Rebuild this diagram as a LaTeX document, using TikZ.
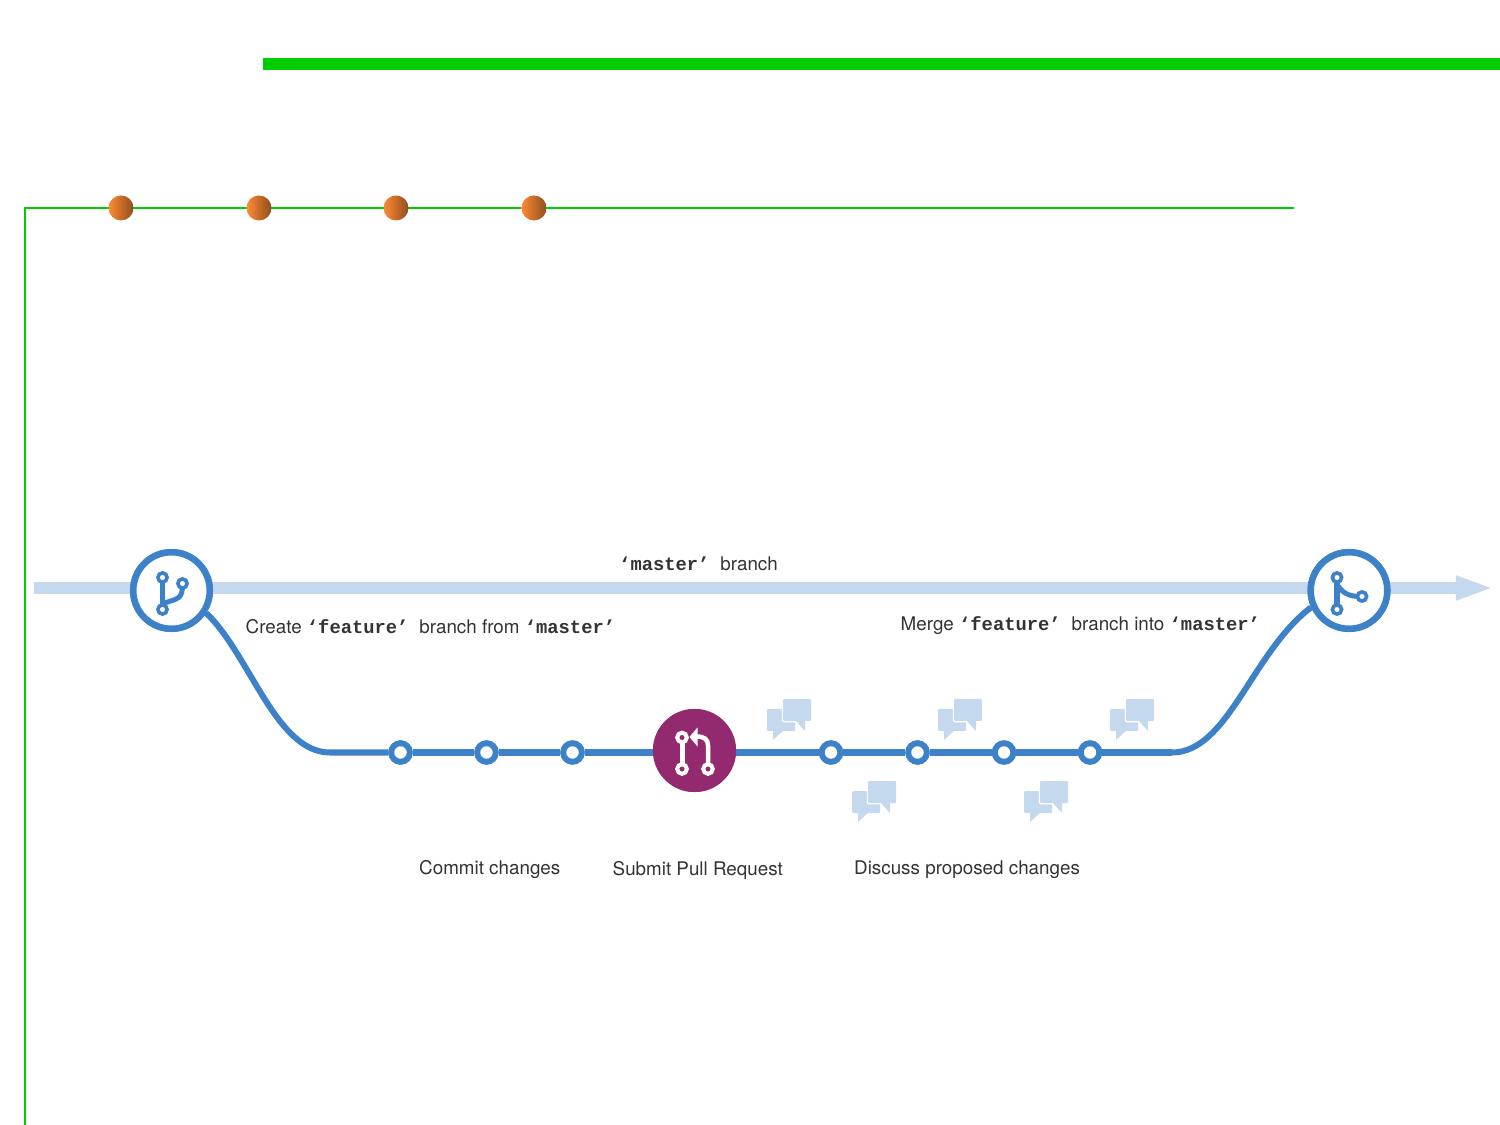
\documentclass[tikz,border=0pt]{standalone}
\usepackage{fontspec}
\setmainfont{TeX Gyre Heros}
\setmonofont{Liberation Mono}
\usetikzlibrary{arrows.meta}

\definecolor{railgreen}{HTML}{00CC00}
\definecolor{masterblue}{HTML}{C5D9EE}
\definecolor{featureblue}{HTML}{3D82C8}
\definecolor{pullpurple}{HTML}{93296F}
\definecolor{labelgrey}{HTML}{333333}
\definecolor{ballleft}{HTML}{FF8A33}
\definecolor{ballmid}{HTML}{F5822E}
\definecolor{ballright}{HTML}{8E4E1F}

\newcommand{\branchname}[1]{{\ttfamily\bfseries ‘#1’}}

\tikzset{
    ball/.style={circle, minimum size=0.25cm, inner sep=0pt, left color=ballleft, middle color=ballmid, right color=ballright},
    commit/.style={circle, draw=featureblue, line width=0.058cm, fill=white, minimum size=0.185cm, inner sep=0pt},
    ring/.style={circle, draw=featureblue, line width=0.065cm, fill=white, minimum size=0.765cm, inner sep=0pt},
    pullnode/.style={circle, fill=pullpurple, minimum size=0.83cm, inner sep=0pt},
    feature/.style={draw=featureblue, line width=0.06cm},
    label/.style={anchor=base west, inner sep=0pt, text=labelgrey, font=\fontsize{5.35}{6.5}\selectfont},
    pics/chat/.style={code={
        \fill[masterblue, rounded corners=0.01cm] (0,10) rectangle (28,32);
        \fill[masterblue] (6,31) -- (6,41) -- (17,31) -- cycle;
        \fill[masterblue, draw=white, line width=0.025cm, rounded corners=0.01cm] (16,0) rectangle (44,22);
        \fill[masterblue] (28,21) -- (38,32) -- (38,21) -- cycle;
        \fill[masterblue, rounded corners=0.01cm] (16,0) rectangle (44,22);
    }},
    pics/forkicon/.style={code={
        \draw[featureblue, line width=0.055cm] (-9,-13) -- (-9,19);
        \draw[featureblue, line width=0.05cm] (11,-7) .. controls (11,8) and (8,8) .. (-9,13);
        \foreach \cx/\cy in {-9/-13, 11/-7, -9/19}
            \draw[featureblue, line width=0.036cm, fill=white] (\cx,\cy) circle (0.046cm);
    }},
    pics/mergeicon/.style={code={
        \draw[featureblue, line width=0.055cm] (-12,-13) -- (-12,19);
        \draw[featureblue, line width=0.05cm] (-12,-6) .. controls (-5,5) and (3,6) .. (13,6);
        \foreach \cx/\cy in {-12/-13, 13/6, -12/19}
            \draw[featureblue, line width=0.036cm, fill=white] (\cx,\cy) circle (0.046cm);
    }},
    pics/pullicon/.style={code={
        \draw[white, line width=0.05cm] (-12.5,-13) -- (-12.5,18);
        \draw[white, line width=0.045cm] (13.5,18) -- (13.5,-5) .. controls (13.5,-11) and (10,-14) .. (2,-14);
        \fill[white] (-5,-13.5) -- (3,-23) -- (3,-4) -- cycle;
        \foreach \cx/\cy in {-12.5/-13, -12.5/18.5, 13.5/18.5}
            \draw[white, line width=0.04cm, fill=pullpurple] (\cx,\cy) circle (0.048cm);
    }},
}

\begin{document}
\begin{tikzpicture}[x=0.01cm, y=-0.01cm]

    \useasboundingbox (0,0) rectangle (1500,1125);

    % Green rules at the top
    \fill[railgreen] (263,58) rectangle (1500,70);

    \coordinate (railfoot) at (25,1125);
    \coordinate (railcorner) at (25,208);
    \coordinate (railend) at (1294,208);
    \draw[railgreen, line width=0.02cm] (railfoot) -- (railcorner) -- (railend);

    \node[ball] (ballA) at (121,208) {};
    \node[ball] (ballB) at (259,208) {};
    \node[ball] (ballC) at (396,208) {};
    \node[ball] (ballD) at (534,208) {};

    % The master branch
    \coordinate (masterstart) at (34,588);
    \coordinate (masterend) at (1494,588);
    \draw[masterblue, line width=0.12cm, -{Triangle[length=0.38cm, width=0.22cm]}] (masterstart) -- (masterend);

    % The nodes of the feature branch
    \node[ring] (fork) at (171.5,590.5) {};
    \node[ring] (merge) at (1349,590.5) {};
    \coordinate (bendL) at (330,752.5);
    \coordinate (bendR) at (1172,752.5);
    \coordinate (pullhub) at (694.5,752.5);
    \node[commit] (commitA) at (400.5,752.5) {};
    \node[commit] (commitB) at (486.5,752.5) {};
    \node[commit] (commitC) at (572.5,752.5) {};
    \node[pullnode] (pull) at (694.5,750.5) {};
    \node[commit] (discussA) at (831,752.5) {};
    \node[commit] (discussB) at (917.5,752.5) {};
    \node[commit] (discussC) at (1004,752.5) {};
    \node[commit] (discussD) at (1090,752.5) {};

    % The feature branch itself
    \draw[feature] (fork.-33) .. controls (250,655) and (276,752.5) .. (bendL) -- (commitA);
    \foreach \from/\to in {commitA/commitB, commitB/commitC, commitC/pullhub, pullhub/discussA, discussA/discussB, discussB/discussC, discussC/discussD, discussD/bendR}
        \draw[feature] (\from) -- (\to);
    \draw[feature] (bendR) .. controls (1228,752.5) and (1252,652) .. (merge.204);

    % Redraw the nodes over the line ends
    \node[ring] at (fork) {};
    \node[ring] at (merge) {};
    \node[pullnode] at (pull) {};
    \foreach \n in {commitA, commitB, commitC, discussA, discussB, discussC, discussD}
        \node[commit] at (\n) {};

    % The icons
    \pic at (fork) {forkicon};
    \pic at (merge) {mergeicon};
    \pic at (pull) {pullicon};

    % Speech bubbles
    \foreach \bx/\by in {767/699, 938/699, 1110/699, 852/781, 1024/781}
        \pic at (\bx,\by) {chat};

    % Labels
    \node[label] (masterlabel) at (618.5,570.5) {\branchname{master}\hspace{0.3em} branch};
    \node[label] (createlabel) at (245,633.5) {Create \branchname{feature}\hspace{0.3em} branch from \branchname{master}};
    \node[label] (mergelabel) at (900,630.5) {Merge \branchname{feature}\hspace{0.3em} branch into \branchname{master}};
    \node[label] (commitlabel) at (418.5,874.5) {Commit changes};
    \node[label] (pulllabel) at (612,875) {Submit Pull Request};
    \node[label] (discusslabel) at (853.5,874.5) {Discuss proposed changes};

\end{tikzpicture}
\end{document}
